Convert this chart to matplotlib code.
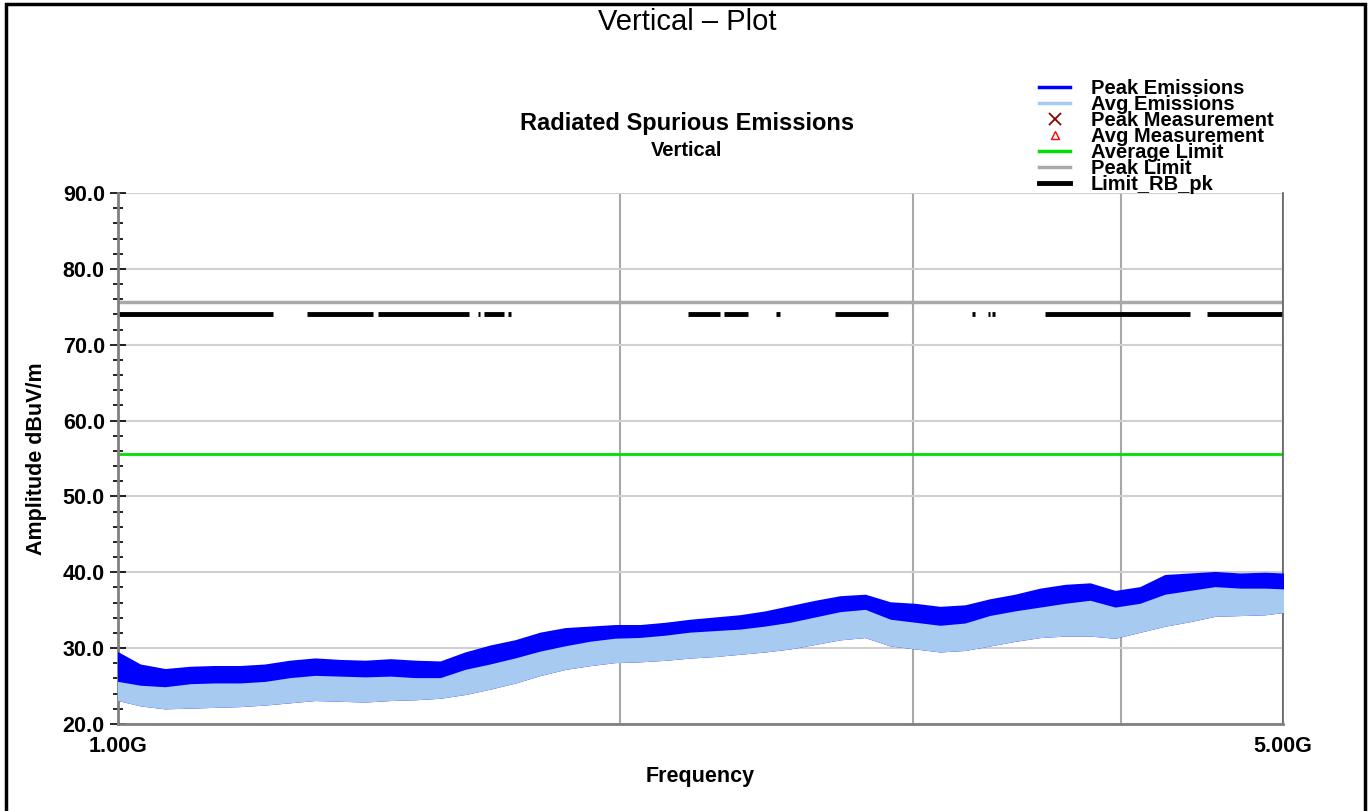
import matplotlib
matplotlib.use("Agg")
import matplotlib.pyplot as plt
from matplotlib.lines import Line2D
from matplotlib.patches import Rectangle
from matplotlib.ticker import FixedLocator, FixedFormatter, MultipleLocator, NullLocator

# frequency (GHz) and the envelopes of the emission traces
freq_ghz = [1.000, 1.031, 1.067, 1.105, 1.143, 1.184, 1.225, 1.268, 1.313, 1.359,
            1.407, 1.457, 1.508, 1.561, 1.616, 1.672, 1.731, 1.792, 1.855, 1.920,
            1.987, 2.057, 2.130, 2.204, 2.282, 2.362, 2.445, 2.531, 2.620, 2.712,
            2.807, 2.906, 3.008, 3.113, 3.223, 3.336, 3.453, 3.575, 3.700, 3.830,
            3.965, 4.104, 4.248, 4.398, 4.552, 4.712, 4.878, 5.000]
peak_top = [29.4, 27.8, 27.2, 27.5, 27.6, 27.6, 27.8, 28.3, 28.6, 28.4,
            28.3, 28.5, 28.3, 28.2, 29.4, 30.3, 31.0, 32.0, 32.6, 32.8,
            33.0, 33.0, 33.3, 33.7, 34.0, 34.3, 34.8, 35.5, 36.2, 36.8,
            37.0, 36.0, 35.8, 35.4, 35.6, 36.4, 37.0, 37.8, 38.3, 38.5,
            37.5, 38.0, 39.6, 39.8, 40.0, 39.8, 39.9, 39.8]
avg_top = [25.5, 25.0, 24.8, 25.2, 25.3, 25.3, 25.5, 26.0, 26.3, 26.2,
           26.1, 26.2, 26.0, 26.0, 27.1, 27.8, 28.6, 29.5, 30.2, 30.8,
           31.2, 31.3, 31.6, 32.0, 32.2, 32.4, 32.8, 33.3, 34.0, 34.7,
           35.0, 33.7, 33.3, 32.9, 33.2, 34.2, 34.8, 35.3, 35.8, 36.2,
           35.3, 35.8, 37.0, 37.5, 38.0, 37.8, 37.8, 37.7]
avg_bot = [23.2, 22.5, 22.1, 22.2, 22.3, 22.4, 22.6, 22.9, 23.2, 23.1,
           23.0, 23.2, 23.3, 23.5, 24.0, 24.7, 25.5, 26.5, 27.3, 27.8,
           28.2, 28.3, 28.5, 28.8, 29.0, 29.3, 29.6, 30.0, 30.6, 31.2,
           31.5, 30.4, 30.0, 29.6, 29.8, 30.4, 31.0, 31.5, 31.7, 31.7,
           31.4, 32.2, 33.0, 33.6, 34.3, 34.4, 34.5, 34.8]

peak_limit = 75.6
avg_limit = 55.6
rb_limit = 74.0
rb_start = [1.000, 1.298, 1.432, 1.644, 1.658, 1.714, 2.198, 2.310, 2.482,
            2.693, 3.254, 3.327, 3.345, 3.600, 4.503]
rb_end = [1.239, 1.422, 1.624, 1.649, 1.704, 1.721, 2.297, 2.388, 2.496,
          2.897, 3.268, 3.336, 3.359, 4.399, 5.000]

# no measurement points in this scan, only listed in the legend
peak_meas_f, peak_meas_v = [], []
avg_meas_f, avg_meas_v = [], []

x_ticks = [1, 2, 3, 4, 5]
x_labels = ["1.00G", "", "", "", "5.00G"]
y_ticks = [20, 30, 40, 50, 60, 70, 80, 90]

plt.rcParams["font.family"] = ["Liberation Sans", "DejaVu Sans"]

fig = plt.figure(figsize=(13.71, 8.11), dpi=100)
ax = fig.add_axes([0.0861, 0.1073, 0.8497, 0.6547])

ax.set_xscale("log")
ax.set_xlim(1, 5)
ax.set_ylim(20, 90)

ax.fill_between(freq_ghz, avg_bot, peak_top, color="#0000FF", lw=1.2, zorder=3)
ax.fill_between(freq_ghz, avg_bot, avg_top, color="#A6CAF0", lw=1.2, zorder=4)
ax.plot(peak_meas_f, peak_meas_v, "x", color="#8B0000", ms=9, mew=1.5)
ax.plot(avg_meas_f, avg_meas_v, "^", color="#FF0000", mfc="none", ms=6)
ax.axhline(avg_limit, color="#00E000", lw=2, zorder=2)
ax.axhline(peak_limit, color="#A8A8A8", lw=2.5, zorder=2)
ax.hlines([rb_limit] * len(rb_start), rb_start, rb_end, color="black", lw=3.5, zorder=2)

ax.xaxis.set_major_locator(FixedLocator(x_ticks))
ax.xaxis.set_major_formatter(FixedFormatter(x_labels))
ax.xaxis.set_minor_locator(NullLocator())
ax.yaxis.set_major_locator(FixedLocator(y_ticks))
ax.yaxis.set_minor_locator(MultipleLocator(2))
ax.yaxis.set_major_formatter(lambda v, p: f"{v:.1f}")

ax.grid(axis="y", color="#D0D0D0", lw=1.5, zorder=0)
ax.grid(axis="x", color="#A8A8A8", lw=1.5, zorder=0)
ax.set_axisbelow(True)

ax.tick_params(axis="x", length=0, pad=9, labelsize=15.5)
ax.tick_params(axis="y", which="major", direction="inout", length=11, width=1.2,
               pad=4, labelsize=15.5)
ax.tick_params(axis="y", which="minor", direction="inout", length=7, width=1.2)
for lab in ax.get_xticklabels() + ax.get_yticklabels():
    lab.set_fontweight("bold")

ax.spines["top"].set_visible(False)
ax.spines["left"].set_color("#808080")
ax.spines["left"].set_linewidth(2)
ax.spines["bottom"].set_color("#808080")
ax.spines["bottom"].set_linewidth(2)
ax.spines["right"].set_color("#606060")
ax.spines["right"].set_linewidth(1.2)

ax.set_xlabel("Frequency", fontsize=15.5, fontweight="bold", labelpad=6)
ax.set_ylabel("Amplitude dBuV/m", fontsize=15.5, fontweight="bold")
ax.yaxis.set_label_coords(-0.061, 0.5)

fig.text(0.501, 0.973, "Vertical \u2013 Plot", fontsize=21, ha="center", va="center")
fig.text(0.501, 0.848, "Radiated Spurious Emissions", fontsize=17,
         fontweight="bold", ha="center", va="center")
fig.text(0.501, 0.814, "Vertical", fontsize=14.5, fontweight="bold",
         ha="center", va="center")

handles = [
    Line2D([], [], color="#0000FF", lw=2.5),
    Line2D([], [], color="#A6CAF0", lw=2.5),
    Line2D([], [], ls="none", marker="x", color="#8B0000", ms=9, mew=1.3),
    Line2D([], [], ls="none", marker="^", color="#FF0000", mfc="none", ms=6),
    Line2D([], [], color="#00E000", lw=2.5),
    Line2D([], [], color="#A8A8A8", lw=2.5),
    Line2D([], [], color="black", lw=3.5),
]
labels = ["Peak Emissions", "Avg Emissions", "Peak Measurement", "Avg Measurement",
          "Average Limit", "Peak Limit", "Limit_RB_pk"]
fig.legend(handles, labels, loc="upper left", bbox_to_anchor=(0.758, 0.902),
           frameon=False, borderpad=0, borderaxespad=0, handlelength=1.55,
           handletextpad=1.0, labelspacing=-0.15,
           prop={"size": 14.5, "weight": "bold"})

fig.patches.append(Rectangle((0.0044, -0.01), 0.9912, 1.005, transform=fig.transFigure,
                             fill=False, edgecolor="black", lw=2.5))

fig.savefig("out.png", dpi=100)
